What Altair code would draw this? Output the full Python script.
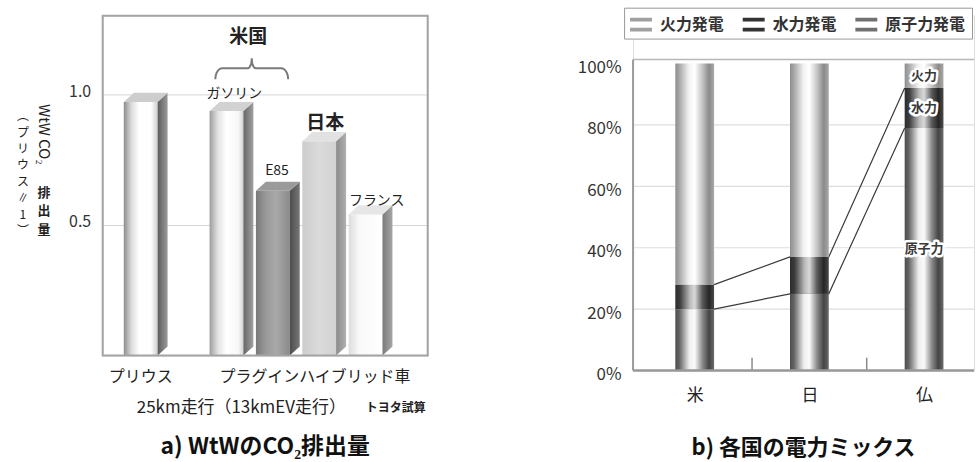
import json
import math
import altair as alt
import pandas as pd

FONT = "Noto Sans CJK JP"

# ---------------- data: a) WtW CO2 (Prius = 1) ----------------
a_labels = ["プリウス", "ガソリン", "E85", "日本", "フランス"]
a_values = [0.97, 0.935, 0.63, 0.82, 0.54]
a_ticks = [0.5, 1.0]
a_xlabels = ["プリウス", "プラグインハイブリッド車"]
a_note = "25km走行（13kmEV走行）"
a_source = "トヨタ試算"
a_group = "米国"
a_title = "a) WtWのCO₂排出量"

# ---------------- data: b) electricity mix ----------------
b_countries = ["米", "日", "仏"]
b_nuclear = [0.20, 0.25, 0.79]
b_hydro = [0.08, 0.12, 0.13]
b_thermal = [0.72, 0.63, 0.08]
b_sources = ["火力発電", "水力発電", "原子力発電"]
b_ticks = [0, 0.2, 0.4, 0.6, 0.8, 1.0]
b_title = "b) 各国の電力ミックス"

# ---------------- layout constants ----------------
A_W, A_H = 326, 341
A_YMAX = 1.30
A_XDOM = [-0.82, 6.19]
GAP = 0.85          # extra gap between Prius and the PHV group
HALF = 0.365        # half width of front face (slot units)
DX = 0.215          # 3D depth, x
DV = 0.035          # 3D depth, y

B_W, B_H = 342, 356
B_PX = 118.5
B_XDOM = [-0.494, -0.494 + B_W / B_PX]
B_YMAX = B_H / 308.0
HB = 0.169
FRAME_TOP = 1.013


def grad(stops):
    return alt.LinearGradient(
        gradient="linear", x1=0, x2=1, y1=0, y2=0,
        stops=[alt.GradientStop(offset=o, color=c) for o, c in stops])


# ======================= panel a =======================
slots = [i + (GAP if i > 0 else 0) for i in range(len(a_labels))]

XA = alt.X("x:Q", scale=alt.Scale(domain=A_XDOM, nice=False, zero=False), axis=None)
YA = alt.Y("y:Q", scale=alt.Scale(domain=[0, A_YMAX], nice=False, zero=False),
           axis=alt.Axis(values=a_ticks, format=".1f", grid=True, gridColor="#d6d6d6",
                         domain=False, ticks=False, labelFontSize=16, labelPadding=12,
                         labelColor="#333", labelFont=FONT, labelOffset=-3,
                         title=None, minExtent=88))

front_style = {
    "プリウス": [(0, "#8c8c8c"), (0.22, "#dadada"), (0.45, "#ffffff"), (0.8, "#ffffff"), (1, "#cfcfcf")],
    "ガソリン": [(0, "#9c9c9c"), (0.25, "#e2e2e2"), (0.5, "#ffffff"), (0.85, "#f8f8f8"), (1, "#d2d2d2")],
    "E85": [(0, "#787878"), (0.3, "#9a9a9a"), (0.6, "#a9a9a9"), (1, "#8a8a8a")],
    "日本": [(0, "#cdcdcd"), (0.5, "#dadada"), (1, "#d2d2d2")],
    "フランス": [(0, "#dcdcdc"), (0.3, "#f8f8f8"), (1, "#ffffff")],
}
side_style = {
    "プリウス": [(0, "#5c5c5c"), (1, "#9a9a9a")],
    "ガソリン": [(0, "#666666"), (1, "#a0a0a0")],
    "E85": [(0, "#4c4c4c"), (1, "#767676")],
    "日本": [(0, "#8a8a8a"), (1, "#b0b0b0")],
    "フランス": [(0, "#7a7a7a"), (1, "#a6a6a6")],
}
top_style = {"プリウス": "#cdcdcd", "ガソリン": "#d2d2d2", "E85": "#9a9a9a",
             "日本": "#e2e2e2", "フランス": "#e6e6e6"}

layers_a = []
for i, lab in enumerate(a_labels):
    v, s = a_values[i], slots[i]
    L, R = s - HALF, s + HALF
    front = pd.DataFrame({"x": [L], "x2": [R], "y": [0.0], "y2": [v]})
    side = pd.DataFrame({"x": [R, R + DX], "y": [v, v + DV], "y2": [0.0, DV]})
    top = pd.DataFrame({"x": [L, L + DX, R, R + DX],
                        "y": [v, v + DV, v + DV, v + DV],
                        "y2": [v, v, v, v + DV]})
    layers_a.append(alt.Chart(front).mark_bar(fill=grad(front_style[lab])).encode(
        x=XA, x2="x2:Q", y=YA, y2="y2:Q"))
    layers_a.append(alt.Chart(side).mark_area(fill=grad(side_style[lab])).encode(
        x=XA, y=YA, y2="y2:Q"))
    layers_a.append(alt.Chart(top).mark_area(fill=top_style[lab]).encode(
        x=XA, y=YA, y2="y2:Q"))

# brace over the US bars
bL, bR = slots[1] - 0.24, slots[2] + 0.33
bC = (bL + bR) / 2
y_end, y_flat, y_tip = 1.057, 1.099, 1.137
r1, r2 = 0.15, 0.086
pts = []
N = 8
for k in range(N + 1):
    t = math.pi / 2 * k / N
    pts.append((bL + r1 - r1 * math.cos(t), y_end + (y_flat - y_end) * math.sin(t)))
for k in range(N + 1):
    t = math.pi / 2 * k / N
    pts.append((bC - r2 + r2 * math.sin(t), y_tip - (y_tip - y_flat) * math.cos(t)))
right_half = [(2 * bC - x, y) for x, y in reversed(pts)]
pts = pts + right_half
brace = pd.DataFrame({"x": [p[0] for p in pts], "y": [p[1] for p in pts],
                      "o": list(range(len(pts)))})
layers_a.append(alt.Chart(brace).mark_line(color="#7a7a7a", strokeWidth=2).encode(
    x=XA, y=YA, order="o:Q"))


def text_layer(df, **kw):
    base = dict(font=FONT, color="#222", baseline="middle", align="center")
    base.update(kw)
    return alt.Chart(df).mark_text(**base).encode(x=XA, y=YA, text="t:N")


ann_bold = pd.DataFrame({
    "t": [a_group, a_labels[3]],
    "x": [(slots[1] + slots[2]) / 2 - 0.03, slots[3] + 0.13],
    "y": [1.218, a_values[3] + 0.07]})
ann_norm = pd.DataFrame({
    "t": [a_labels[1], a_labels[2], a_labels[4]],
    "x": [slots[1] + 0.17, slots[2] + 0.09, slots[4] + 0.24],
    "y": [a_values[1] + 0.065, a_values[2] + 0.076, a_values[4] + 0.05]})
xlab = pd.DataFrame({
    "t": a_xlabels,
    "x": [slots[0], (slots[1] + slots[4]) / 2 + 0.41],
    "y": [-0.08, -0.08]})
note = pd.DataFrame({"t": [a_note], "x": [2.17], "y": [-0.2]})
src = pd.DataFrame({"t": [a_source], "x": [5.5], "y": [-0.2]})

layers_a += [
    text_layer(ann_bold, fontSize=19, fontWeight="bold"),
    text_layer(ann_norm, fontSize=14),
    text_layer(xlab, fontSize=16),
    text_layer(note, fontSize=17),
    text_layer(src, fontSize=12, fontWeight="bold"),
]

# vertical y-axis title (two columns)
one = lambda yv: pd.DataFrame({"y": [yv]})
layers_a += [
    alt.Chart(one(0.962)).mark_text(text="WtW CO₂", angle=90, align="left", baseline="middle",
                                     font=FONT, fontSize=15, color="#222").encode(
        x=alt.value(-59), y=YA),
    alt.Chart(one(0.645)).mark_text(text=["排", "出", "量"], align="center", baseline="top",
                                     lineHeight=18.5, font=FONT, fontSize=13, fontWeight="bold",
                                     color="#222").encode(x=alt.value(-59), y=YA),
    alt.Chart(one(0.935)).mark_text(text=["︵", "プ", "リ", "ウ", "ス", "∥", "1", "︶"],
                                     align="center", baseline="top", lineHeight=16.5,
                                     font=FONT, fontSize=12, color="#222").encode(
        x=alt.value(-80), y=YA),
]

frame_a = alt.Chart(pd.DataFrame({"k": [0]})).mark_rect(
    fill="transparent", stroke="#a4a4a4", strokeWidth=2).encode(
    x=alt.value(0), x2=alt.value(A_W), y=alt.value(0), y2=alt.value(A_H))
layers_a.append(frame_a)

left = alt.layer(*layers_a).properties(
    width=A_W, height=A_H,
    title=alt.TitleParams(a_title, orient="bottom", anchor="middle", frame="group",
                          font=FONT, fontSize=23, fontWeight="bold", color="#111", offset=20))

# ======================= panel b =======================
n = len(b_countries)
XB = alt.X("x:Q", scale=alt.Scale(domain=B_XDOM, nice=False, zero=False),
           axis=alt.Axis(values=list(range(n)),
                         labelExpr=json.dumps(b_countries, ensure_ascii=False) + "[datum.value]",
                         domain=False, ticks=False, grid=False, labelFontSize=17,
                         labelPadding=17, labelColor="#222", labelFont=FONT, title=None))
YB = alt.Y("y:Q", scale=alt.Scale(domain=[0, B_YMAX], nice=False, zero=False),
           axis=alt.Axis(values=b_ticks, format=".0%", domain=False, ticks=False, grid=False,
                         labelFontSize=17, labelPadding=12, labelColor="#333", labelFont=FONT,
                         labelOffset=4, title=None, minExtent=70))

grid_b = alt.Chart(pd.DataFrame({"y": [t for t in b_ticks if 0 < t < 1]})).mark_rule(
    color="#dedede", strokeWidth=1.2).encode(x=alt.value(0), x2=alt.value(B_W), y=YB)

lower = b_nuclear
upper = [a + b for a, b in zip(b_nuclear, b_hydro)]
rows = []
for name, vals in (("lower", lower), ("upper", upper)):
    seq = 0
    for i, v in enumerate(vals):
        if i > 0:
            rows.append({"b": name, "x": i - HB, "y": v, "seq": seq}); seq += 1
        if i < n - 1:
            rows.append({"b": name, "x": i + HB, "y": v, "seq": seq}); seq += 1
conn = alt.Chart(pd.DataFrame(rows)).mark_line(color="#3a3a3a", strokeWidth=1.2).encode(
    x=XB, y=YB, detail="b:N", order="seq:Q")

seg_style = {
    "nuclear": [(0, "#4e4e4e"), (0.1, "#626262"), (0.36, "#eeeeee"), (0.5, "#fbfbfb"),
                (0.7, "#8a8a8a"), (0.87, "#444444"), (1, "#6a6a6a")],
    "hydro": [(0, "#2c2c2c"), (0.12, "#3c3c3c"), (0.38, "#bcbcbc"), (0.5, "#d8d8d8"),
              (0.7, "#5a5a5a"), (0.87, "#262626"), (1, "#4a4a4a")],
    "thermal": [(0, "#8e8e8e"), (0.1, "#a6a6a6"), (0.35, "#f2f2f2"), (0.5, "#ffffff"),
                (0.7, "#c4c4c4"), (0.87, "#8a8a8a"), (1, "#a8a8a8")],
}
bars_b = []
starts = {"nuclear": [0.0] * n, "hydro": lower, "thermal": upper}
amounts = {"nuclear": b_nuclear, "hydro": b_hydro, "thermal": b_thermal}
for key in ("nuclear", "hydro", "thermal"):
    df = pd.DataFrame({"x": [i - HB for i in range(n)], "x2": [i + HB for i in range(n)],
                       "y": starts[key],
                       "y2": [s + a for s, a in zip(starts[key], amounts[key])]})
    bars_b.append(alt.Chart(df).mark_bar(fill=grad(seg_style[key])).encode(
        x=XB, x2="x2:Q", y=YB, y2="y2:Q"))

last = n - 1
lab_df = pd.DataFrame({
    "t": [s.replace("発電", "") for s in b_sources],
    "x": [last] * 3,
    "y": [upper[last] + b_thermal[last] / 2, lower[last] + b_hydro[last] / 2, b_nuclear[last] / 2]})
halo = alt.Chart(lab_df).mark_text(font=FONT, fontSize=13, fontWeight="bold", fill="white",
                                   stroke="white", strokeWidth=5, strokeJoin="round",
                                   baseline="middle").encode(x=XB, y=YB, text="t:N")
labs = alt.Chart(lab_df).mark_text(font=FONT, fontSize=13, fontWeight="bold", fill="#3a3a3a",
                                   baseline="middle").encode(x=XB, y=YB, text="t:N")

ticks_b = alt.Chart(pd.DataFrame({"x": [i + 0.5 for i in range(n - 1)], "y": [0.0] * (n - 1),
                                  "y2": [0.042] * (n - 1)})).mark_rule(
    color="#8a8a8a", strokeWidth=1.5).encode(x=XB, y=YB, y2="y2:Q")

frame_left = alt.Chart(pd.DataFrame({"y": [0.0], "y2": [FRAME_TOP]})).mark_rule(
    color="#9a9a9a", strokeWidth=2).encode(x=alt.value(0), y=YB, y2="y2:Q")
frame_top = alt.Chart(pd.DataFrame({"y": [FRAME_TOP]})).mark_rule(
    color="#b8b8b8", strokeWidth=1.5).encode(x=alt.value(0), x2=alt.value(B_W), y=YB)
frame_bot = alt.Chart(pd.DataFrame({"y": [0.0]})).mark_rule(
    color="#999999", strokeWidth=2.5).encode(x=alt.value(0), x2=alt.value(B_W), y=YB)

legend_src = pd.DataFrame({"source": b_sources, "x": [0.0] * 3, "y": [0.0] * 3, "y2": [0.0] * 3})
legend_layer = alt.Chart(legend_src).mark_bar().encode(
    x=XB, y=YB, y2="y2:Q",
    color=alt.Color("source:N",
                    scale=alt.Scale(domain=b_sources, range=["#a0a0a0", "#333333", "#707070"]),
                    legend=alt.Legend(orient="none", legendX=-9, legendY=-8, direction="horizontal",
                                      columns=3, title=None,
                                      symbolType="M-1,-0.62H1V-0.28H-1Z M-1,0.28H1V0.62H-1Z",
                                      symbolSize=484, symbolStrokeWidth=0, symbolOpacity=1,
                                      labelFont=FONT, labelFontSize=16, labelFontWeight="bold",
                                      labelColor="#333", labelOffset=8, columnPadding=18,
                                      padding=6, strokeColor="#999999", fillColor="white")))

right = alt.layer(grid_b, conn, *bars_b, halo, labs, ticks_b, frame_left, frame_top, frame_bot,
                  legend_layer).properties(
    width=B_W, height=B_H,
    title=alt.TitleParams(b_title, orient="bottom", anchor="middle", frame="group",
                          font=FONT, fontSize=22, fontWeight="bold", color="#111", offset=35))

chart = alt.hconcat(left, right, spacing=133).resolve_scale(color="independent").properties(
    padding={"left": 14, "top": 6, "right": 0, "bottom": 0},
    background="white",
).configure_view(stroke=None).configure(font=FONT)

chart.save("out.html", embed_options={"renderer": "svg", "actions": False})
